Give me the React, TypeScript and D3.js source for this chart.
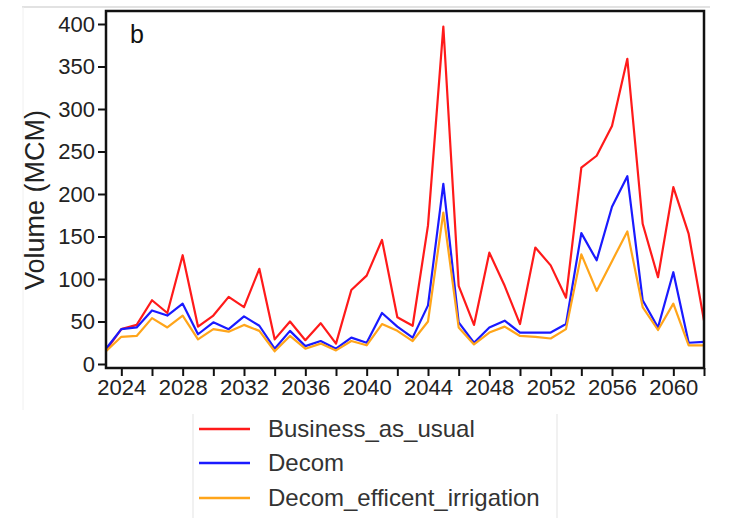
import React, { useEffect, useRef } from "react";
import * as d3 from "d3";

const years: number[] = d3.range(2023, 2063);

const businessAsUsual: number[] = [
  16, 41, 46, 75, 60, 128, 44, 57, 79, 67,
  112, 29, 50, 28, 48, 24, 87, 104, 146, 55,
  45, 163, 397, 92, 46, 131, 92, 47, 137, 116,
  78, 231, 245, 280, 359, 165, 102, 208, 153, 51,
];

const decom: number[] = [
  18, 41, 43, 63, 57, 71, 35, 49, 41, 56,
  45, 18, 39, 21, 27, 18, 31, 25, 60, 44,
  31, 69, 212, 49, 25, 43, 51, 37, 37, 37,
  47, 154, 122, 185, 221, 75, 43, 108, 25, 26,
];

const decomEfficientIrrigation: number[] = [
  15, 32, 33, 54, 43, 57, 29, 41, 38, 46,
  39, 15, 33, 18, 24, 16, 27, 22, 47, 39,
  27, 50, 178, 43, 23, 37, 44, 33, 32, 30,
  41, 129, 86, 121, 156, 67, 40, 71, 22, 22,
];

const seriesNames: string[] = ["Business_as_usual", "Decom", "Decom_efficent_irrigation"];
const seriesColors: string[] = ["#ff1a1a", "#1a1aff", "#ffa51a"];
const yTicks: number[] = [0, 50, 100, 150, 200, 250, 300, 350, 400];
const xTickYears: number[] = d3.range(2024, 2063, 2);

const W = 753;
const H = 518;
const left = 106, right = 704, top = 11, bottom = 368;
const FONT = "'Liberation Sans', Arial, sans-serif";

export default function App() {
  const xAxisRef = useRef<SVGGElement>(null);
  const yAxisRef = useRef<SVGGElement>(null);

  const x = d3.scaleLinear().domain([2023, 2062]).range([left, right]);
  const y = d3.scaleLinear().domain([0, 400]).range([364, 24]);

  const allSeries = [businessAsUsual, decom, decomEfficientIrrigation];
  const line = d3
    .line<number>()
    .x((_, i) => x(years[i]))
    .y((d) => y(d));

  useEffect(() => {
    if (xAxisRef.current) {
      const g = d3.select(xAxisRef.current);
      g.call(
        d3
          .axisBottom(x)
          .tickValues(xTickYears)
          .tickSize(8)
          .tickPadding(3)
          .tickFormat((d: any) => ((d as number) % 4 === 0 ? String(d) : ""))
      );
      g.select(".domain").remove();
      g.selectAll(".tick line").attr("stroke", "#111").attr("stroke-width", 2);
      g.selectAll(".tick text")
        .attr("font-size", 22)
        .attr("font-family", FONT)
        .attr("fill", "#222");
    }
    if (yAxisRef.current) {
      const g = d3.select(yAxisRef.current);
      g.call(d3.axisLeft(y).tickValues(yTicks).tickSize(8).tickPadding(3));
      g.select(".domain").remove();
      g.selectAll(".tick line").attr("stroke", "#111").attr("stroke-width", 2);
      g.selectAll(".tick text")
        .attr("font-size", 22)
        .attr("font-family", FONT)
        .attr("fill", "#222");
    }
  }, []);

  const legendX = 199;
  const legendRows = [429, 463, 498];

  return (
    <svg
      width={W}
      height={H}
      style={{ position: "absolute", left: 0, top: 0, background: "#fff" }}
    >
      <rect x={0} y={0} width={W} height={H} fill="#fff" />
      {/* faint image borders */}
      <line x1={22} x2={710} y1={7} y2={7} stroke="#e2e2e2" strokeWidth={2} />
      <line x1={23} x2={23} y1={7} y2={410} stroke="#f0f0f0" strokeWidth={1} />
      <line x1={193} x2={193} y1={414} y2={518} stroke="#ececec" strokeWidth={1.5} />
      <line x1={557} x2={557} y1={414} y2={518} stroke="#ececec" strokeWidth={1.5} />

      {allSeries.map((s, i) => (
        <path
          key={seriesNames[i]}
          d={line(s) || ""}
          fill="none"
          stroke={seriesColors[i]}
          strokeWidth={2.2}
          strokeLinejoin="round"
        />
      ))}
      <rect
        x={left}
        y={top}
        width={right - left}
        height={bottom - top}
        fill="none"
        stroke="#111"
        strokeWidth={2.5}
      />
      <g ref={xAxisRef} transform={`translate(0,${bottom})`} />
      <g ref={yAxisRef} transform={`translate(${left},0)`} />

      <text x={130} y={43} fontSize={25} fontFamily={FONT} fill="#111">
        b
      </text>
      <text
        transform={`translate(44,200) rotate(-90)`}
        textAnchor="middle"
        fontSize={27}
        fontFamily={FONT}
        fill="#222"
      >
        Volume (MCM)
      </text>

      {seriesNames.map((name, i) => (
        <g key={name}>
          <line
            x1={legendX}
            x2={legendX + 51}
            y1={legendRows[i]}
            y2={legendRows[i]}
            stroke={seriesColors[i]}
            strokeWidth={2.5}
          />
          <text
            x={268}
            y={legendRows[i] + 8}
            fontSize={24}
            fontFamily={FONT}
            fill="#333"
          >
            {name}
          </text>
        </g>
      ))}
    </svg>
  );
}
